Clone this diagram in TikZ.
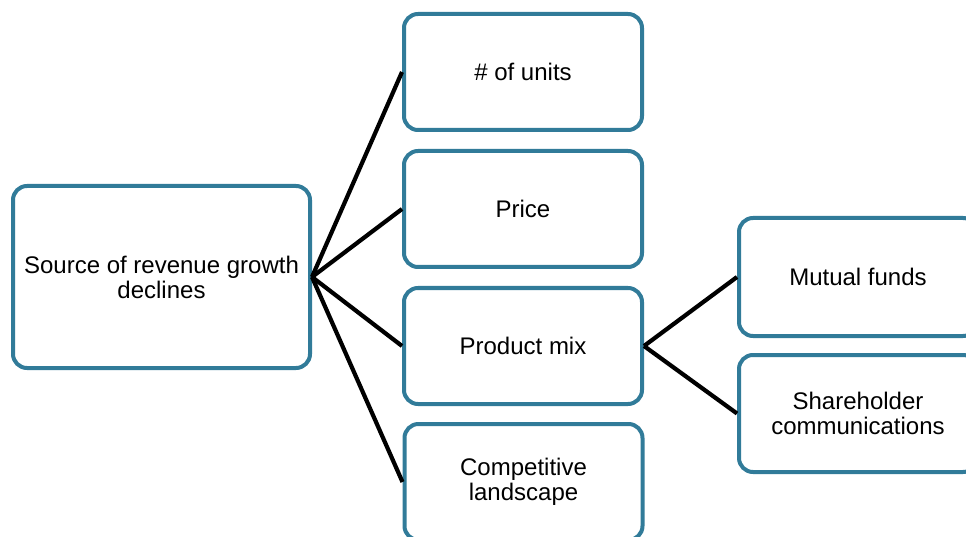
\documentclass[tikz,border=0pt]{standalone}
\usepackage{fontspec}
\setmainfont{Liberation Sans}
\definecolor{boxblue}{RGB}{49,123,153}
\begin{document}
\begin{tikzpicture}[x=1pt,y=-1pt,
  box/.style={draw=boxblue, line width=4pt, rounded corners=14pt, fill=white,
    align=center, inner sep=2pt, font=\fontsize{24}{25}\selectfont,
    minimum width=238pt, minimum height=116pt},
  conn/.style={draw=black, line width=4.2pt}]
\useasboundingbox (0,0) rectangle (966,537);
\clip (0,0) rectangle (966,537);
\node[box, minimum width=297pt, minimum height=182pt] (root) at (161.5,277) {Source of revenue growth\\declines};
\node[box] (units) at (523,72) {\# of units};
\node[box] (price) at (523,209) {Price};
\node[box] (mix) at (523,346) {Product mix};
\node[box] (comp) at (523.5,482) {Competitive\\landscape};
\node[box, minimum height=118pt] (funds) at (858,277) {Mutual funds};
\node[box, minimum height=117pt] (share) at (858,413.5) {Shareholder\\communications};
\draw[conn] (root.east) -- (units.west);
\draw[conn] (root.east) -- (price.west);
\draw[conn] (root.east) -- (mix.west);
\draw[conn] (root.east) -- (comp.west);
\draw[conn] (mix.east) -- (funds.west);
\draw[conn] (mix.east) -- (share.west);
\end{tikzpicture}
\end{document}
